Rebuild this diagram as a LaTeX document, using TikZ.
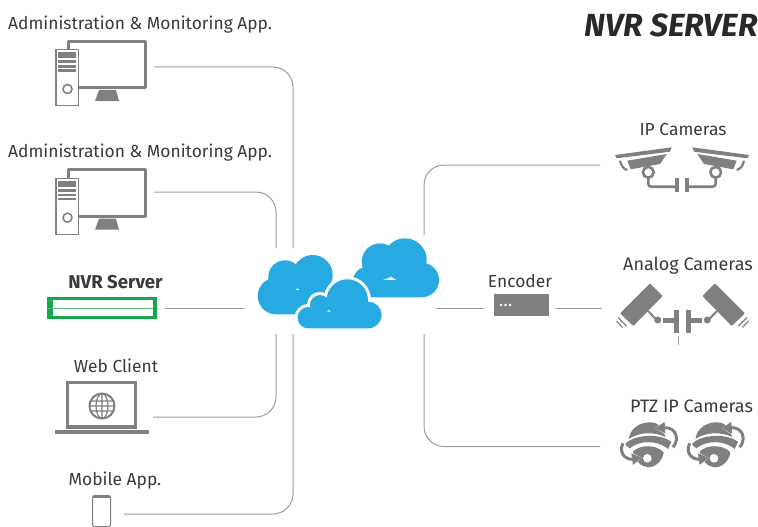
\documentclass[tikz,border=0pt]{standalone}
\usepackage{fontspec}
\setmainfont{Fira Sans}
\usepackage{tikz}
\usetikzlibrary{arrows.meta}
\definecolor{icongray}{HTML}{808080}
\definecolor{linegray}{HTML}{9C9C9C}
\definecolor{cloudblue}{HTML}{27A9E1}
\definecolor{servergreen}{HTML}{17A74D}
\definecolor{inkgray}{HTML}{3A3A3A}

\tikzset{
	link/.style={draw=linegray,line width=1pt,rounded corners=20pt},
	iconbox/.style={inner sep=0pt,outer sep=0pt,minimum width=#1,minimum height=20pt},
	caption/.style={text=inkgray,inner sep=0pt,font=\fontsize{17.4}{19}\selectfont},
	halotip/.style={white,line width=6pt,-{Triangle[length=12pt,width=15pt]}},
	graytip/.style={icongray,line width=3pt,-{Triangle[length=10pt,width=11pt]}},
	pics/pcicon/.style={code={
		\draw[icongray,line width=3pt,line join=round] (-33,-25.5) rectangle (44,21);
		\fill[icongray] (-6.5,34.3) -- (17.5,34.3) -- (14.5,23.3) -- (-2.5,23.3) -- cycle;
		\draw[icongray,fill=white,line width=1.5pt] (-45.5,-17) rectangle (-23,39);
		\fill[icongray] (-43.5,-14.5) rectangle (-25.5,-8.5);
		\fill[icongray] (-43.5,-6.5) rectangle (-25.5,-3.5);
		\fill[icongray] (-43.5,-1.5) rectangle (-25.5,1);
		\fill[icongray] (-43.5,2.5) rectangle (-25.5,5);
		\draw[icongray,line width=1.5pt] (-34,22.3) circle (4.5);
	}},
	pics/ipcam/.style={code={
		\fill[icongray] (-67,-5) -- (-10.3,-12.7) -- (-12,-8.3) -- (-65.3,-1.7) -- cycle;
		\fill[icongray] (-54.7,.7) -- (-15.3,-6) -- (-22,4) -- (-51.3,9.3) -- cycle;
		\draw[icongray,line width=2.2pt] (-62,.7) .. controls (-61,5) and (-59,9) .. (-54.7,10);
		\draw[icongray,line width=2.6pt,rounded corners=3pt] (-33.7,17) -- (-33.7,26.7) -- (-7,26.7);
		\draw[icongray,line width=2.6pt,fill=white] (-33.7,12.3) circle (5.4);
		\fill[icongray] (-7.3,18) rectangle (-2.9,32);
	}},
	pics/analogcam/.style={code={
		\fill[icongray,rounded corners=1pt] (-32.5,-21.7) -- (-19.8,-9) -- (-49.2,21) -- (-62.5,8.3) -- cycle;
		\draw[icongray,line width=1.2pt] (-64.5,12.5) -- (-56,21);
		\draw[icongray,line width=1.2pt] (-66,16) -- (-60,22.5);
		\draw[icongray,line width=2pt] (-34.5,6) -- (-25.8,15);
		\fill[icongray] (-24.8,15) circle (3.5);
		\fill[icongray] (-19.5,12.5) rectangle (-8.5,17.5);
		\fill[icongray] (-8.5,5) rectangle (-3.5,27.7);
	}},
	pics/ptzcam/.style={code={
		% upper dome, brim and lower dome
		\fill[icongray] (-20.3,-6) .. controls (-18.3,-18.3) and (-7.7,-22.7) .. (1.3,-22.7)
			.. controls (7.3,-22.7) and (14,-20) .. (16.3,-8)
			.. controls (5.7,-13.3) and (-9.3,-13.3) .. (-20.3,-6) -- cycle;
		\fill[icongray] (-24.3,-.7) .. controls (-16,-10) and (9,-12.7) .. (22.3,-3.3)
			-- (19,4) .. controls (9,-5) and (-9.3,-5) .. (-19.3,3.3) -- cycle;
		\fill[icongray] (-16,6.7) .. controls (-9.3,-.7) and (7.3,-.7) .. (14.7,7.3)
			.. controls (14,14) and (8,22.3) .. (-1,22.3)
			.. controls (-8,22.3) and (-14,15) .. (-16,6.7) -- cycle;
		\fill[white] (-1.7,13.3) circle (4.3);
		% rotation arrows
		\draw[halotip] (24,2.3) .. controls (31,-6) and (27,-18) .. (6,-16.7);
		\draw[graytip] (24,2.3) .. controls (31,-6) and (27,-18) .. (6,-16.7);
		\draw[halotip] (-26,-1.7) .. controls (-31,8.3) and (-22.7,15) .. (-7,12.7);
		\draw[graytip] (-26,-1.7) .. controls (-31,8.3) and (-22.7,15) .. (-7,12.7);
	}}
}

\begin{document}
\begin{tikzpicture}[x=1pt,y=-1pt]
\useasboundingbox (0,0) rectangle (758,527);

% connectors
\node[iconbox=98pt] (pcA) at (105,67) {};
\node[iconbox=98pt] (pcB) at (105,192) {};
\node[iconbox=98pt] (laptop) at (104,417) {};
\node[iconbox=32pt] (phone) at (108,514) {};
\node[iconbox=9pt] (ipcam) at (604.5,165) {};
\node[iconbox=9pt] (ptzcam) at (604.5,446.5) {};
\node[iconbox=9pt] (analogcam) at (606.5,308) {};
\coordinate (cloudTopA) at (293,248);
\coordinate (cloudTopB) at (276,248);
\coordinate (cloudBotA) at (293,334);
\coordinate (cloudBotB) at (276,334);
\coordinate (cloudWest) at (245,308);
\coordinate (cloudEast) at (436,308);
\coordinate (cloudTopC) at (424,235);
\coordinate (cloudBotC) at (424,334);

\node[fill=icongray,inner sep=0pt,minimum width=55pt,minimum height=22pt] (encoder) at (521.5,305) {};
\node[fill=servergreen,inner sep=0pt,minimum width=110pt,minimum height=22pt] (server) at (102,308) {};

\draw[link] (pcA.east) -| (cloudTopA);
\draw[link] (pcB.east) -| (cloudTopB);
\draw[link] (laptop.east) -| (cloudBotB);
\draw[link] (phone.east) -| (cloudBotA);
\draw[link,shorten <=8pt] (server.east |- cloudWest) -- (cloudWest);
\draw[link] (ipcam.west) -| (cloudTopC);
\draw[link] (ptzcam.west) -| (cloudBotC);
\draw[link,shorten >=10pt] (cloudEast) -- (encoder.west |- cloudEast);
\draw[link,shorten <=6pt] (encoder.east |- cloudEast) -- (analogcam.west);
\draw[draw=linegray,line width=1pt] (678,336) -- (678,345);

% clouds
\fill[cloudblue] (276,296) circle (18.3) (285,277) circle (16.7) (312.7,275) circle (20)
	(276,314.3) rectangle (325,290);
\fill[cloudblue] (380,261.7) circle (18.3) (405,260) circle (21.7) (421.7,280) circle (17.3)
	(368,282) circle (15.3) (368,297.3) rectangle (421.7,280);
\path[fill=white,draw=white,line width=6pt] (347.3,300) circle (20.7) (320,305) circle (10)
	(308.3,317.7) circle (10.7) (368.3,315) circle (13.3) (308.3,328.3) rectangle (368.3,312);
\fill[cloudblue] (347.3,300) circle (20.7) (320,305) circle (10)
	(308.3,317.7) circle (10.7) (368.3,315) circle (13.3) (308.3,328.3) rectangle (368.3,312);

% left icons
\pic at (101.5,66.7) {pcicon};
\pic at (101.5,195.4) {pcicon};
\fill[white] (53,300) rectangle (152.5,316);
\draw[servergreen!75!white,line width=1pt] (47,308) -- (152.5,308);
\draw[icongray,line width=3.5pt] (67.7,382.7) rectangle (135.5,427);
\fill[icongray] (55,429.5) rectangle (148.5,434);
\draw[icongray,line width=2pt] (102,406) circle (12.5);
\draw[icongray,line width=1.2pt] (102,406) ellipse (6 and 12.5) (102,393.5) -- (102,418.5)
	(90,401) -- (114,401) (89.5,406) -- (114.5,406) (90,411) -- (114,411);
\draw[icongray,line width=1pt,fill=white,rounded corners=1.5pt] (92.5,495.5) rectangle (110.5,526.5);
\fill[icongray] (93,495.5) rectangle (110,497.5);

% encoder dots
\foreach \dotx in {501,505.5,510}
	\fill[white] (\dotx,305) circle (1.4);

% cameras
\pic at (682,160) {ipcam};
\pic[xscale=-1] at (682,160) {ipcam};
\pic at (682.5,305) {analogcam};
\pic[xscale=-1] at (682.5,305) {analogcam};
\pic at (649,445) {ptzcam};
\pic at (715.7,445) {ptzcam};

% labels
\node[caption,anchor=west] (adminA) at (8,25) {Administration \& Monitoring App.};
\node[caption,anchor=west] (adminB) at (8,153) {Administration \& Monitoring App.};
\node[caption,font=\fontsize{18.6}{20}\bfseries\selectfont] (nvr) at (115.5,282) {NVR Server};
\node[caption] (web) at (116,366) {Web Client};
\node[caption] (mobile) at (115,481) {Mobile App.};
\node[caption] (enc) at (520,281) {Encoder};
\node[caption] (ip) at (683,130) {IP Cameras};
\node[caption,font=\fontsize{18}{20}\selectfont] (analog) at (688,266) {Analog Cameras};
\node[caption,font=\fontsize{18}{20}\selectfont] (ptz) at (691.5,406) {PTZ IP Cameras};
\node[text=inkgray!70!black,inner sep=0pt,anchor=east,font=\fontsize{32}{34}\bfseries\itshape\selectfont] (title) at (758,25) {NVR SERVER};
\end{tikzpicture}
\end{document}
